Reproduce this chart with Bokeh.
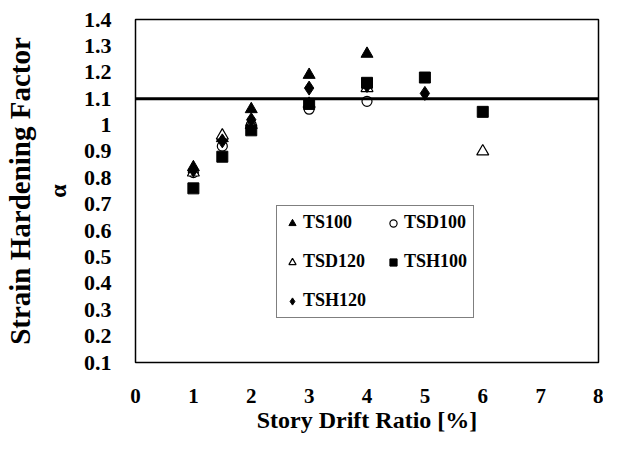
from bokeh.plotting import figure
from bokeh.models import Range1d, LinearAxis, FixedTicker, Span, Legend, LegendItem
from bokeh.embed import file_html
from bokeh.resources import INLINE

# ---- data ----
x_ticks = [0, 1, 2, 3, 4, 5, 6, 7, 8]
y_ticks = [0.1, 0.2, 0.3, 0.4, 0.5, 0.6, 0.7, 0.8, 0.9, 1.0, 1.1, 1.2, 1.3, 1.4]
y_tick_labels = ["0.1", "0.2", "0.3", "0.4", "0.5", "0.6", "0.7", "0.8", "0.9", "1", "1.1", "1.2", "1.3", "1.4"]

ts100_x = [1, 1.5, 2, 3, 4]
ts100_y = [0.84, 0.95, 1.06, 1.19, 1.27]
tsd100_x = [1, 1.5, 2, 3, 4]
tsd100_y = [0.82, 0.92, 1.00, 1.06, 1.09]
tsd120_x = [1, 1.5, 2, 3, 4, 6]
tsd120_y = [0.82, 0.96, 1.00, 1.08, 1.14, 0.90]
tsh100_x = [1, 1.5, 2, 3, 4, 5, 6]
tsh100_y = [0.76, 0.88, 0.98, 1.08, 1.16, 1.18, 1.05]
tsh120_x = [1, 1.5, 2, 3, 4, 5]
tsh120_y = [0.83, 0.94, 1.02, 1.14, 1.15, 1.12]

threshold = 1.1
x_title = "Story Drift Ratio [%]"
y_title = "Strain Hardening Factor"
y_symbol = "α"

FONT = "Liberation Serif"

p = figure(width=603, height=435, output_backend="svg", toolbar_location=None,
           x_range=Range1d(0, 8), y_range=Range1d(0.1, 1.4),
           min_border_left=135, min_border_right=5, min_border_top=19, min_border_bottom=71)

p.grid.visible = False
p.outline_line_color = "black"
p.outline_line_width = 1.5
p.background_fill_color = "white"
p.border_fill_color = "white"

# x axis
xa = p.xaxis[0]
xa.ticker = FixedTicker(ticks=x_ticks)
xa.axis_line_color = None
xa.major_tick_line_color = None
xa.minor_tick_line_color = None
xa.major_label_text_font = FONT
xa.major_label_text_font_style = "bold"
xa.major_label_text_font_size = "21px"
xa.major_label_text_color = "black"
xa.major_label_standoff = 20
xa.axis_label = x_title
xa.axis_label_text_font = FONT
xa.axis_label_text_font_style = "bold"
xa.axis_label_text_font_size = "24px"
xa.axis_label_text_color = "black"
xa.axis_label_standoff = 1

# y axis (inner, with alpha)
ya = p.yaxis[0]
ya.ticker = FixedTicker(ticks=y_ticks)
ya.major_label_overrides = {v: l for v, l in zip(y_ticks, y_tick_labels)}
ya.axis_line_color = None
ya.major_tick_line_color = None
ya.minor_tick_line_color = None
ya.major_label_text_font = FONT
ya.major_label_text_font_style = "bold"
ya.major_label_text_font_size = "22px"
ya.major_label_text_color = "black"
ya.major_label_standoff = 18
ya.axis_label = y_symbol
ya.axis_label_text_font = FONT
ya.axis_label_text_font_style = "bold"
ya.axis_label_text_font_size = "24px"
ya.axis_label_text_color = "black"
ya.axis_label_standoff = 10

# outer axis carrying the main title
outer = LinearAxis(ticker=FixedTicker(ticks=[]), axis_label=y_title,
                   axis_line_color=None, major_tick_line_color=None,
                   minor_tick_line_color=None, major_label_text_font_size="0px",
                   major_label_standoff=0, axis_label_standoff=6,
                   axis_label_text_font=FONT, axis_label_text_font_style="bold",
                   axis_label_text_font_size="29px", axis_label_text_color="black")
p.add_layout(outer, "left")

# threshold line
p.add_layout(Span(location=threshold, dimension="width", line_color="black", line_width=3))

r_ts100 = p.scatter(ts100_x, ts100_y, marker="triangle", size=12, fill_color="black", line_color="black")
r_tsd100 = p.scatter(tsd100_x, tsd100_y, marker="circle", size=10, fill_color="white", line_color="black", line_width=1.2)
r_tsd120 = p.scatter(tsd120_x, tsd120_y, marker="triangle", size=12, fill_color="white", line_color="black", line_width=1.2)
r_tsh100 = p.scatter(tsh100_x, tsh100_y, marker="square", size=11, fill_color="black", line_color="black")
r_tsh120 = p.scatter(tsh120_x, tsh120_y, marker="diamond", size=14, fill_color="black", line_color="black")

legend = Legend(items=[
    LegendItem(label="TS100", renderers=[r_ts100]),
    LegendItem(label="TSD100", renderers=[r_tsd100]),
    LegendItem(label="TSD120", renderers=[r_tsd120]),
    LegendItem(label="TSH100", renderers=[r_tsh100]),
    LegendItem(label="TSH120", renderers=[r_tsh120]),
], location=(141, 44), orientation="horizontal", ncols=2)
legend.label_text_font = FONT
legend.label_text_font_style = "bold"
legend.label_text_font_size = "18px"
legend.label_text_color = "black"
legend.border_line_color = "black"
legend.border_line_width = 1
legend.background_fill_alpha = 1
legend.padding = 6
legend.margin = 0
legend.spacing = 18
legend.glyph_width = 18
legend.glyph_height = 20
legend.label_height = 20
legend.label_standoff = 2
p.add_layout(legend, "center")

open("out.html", "w").write(file_html(p, INLINE))
